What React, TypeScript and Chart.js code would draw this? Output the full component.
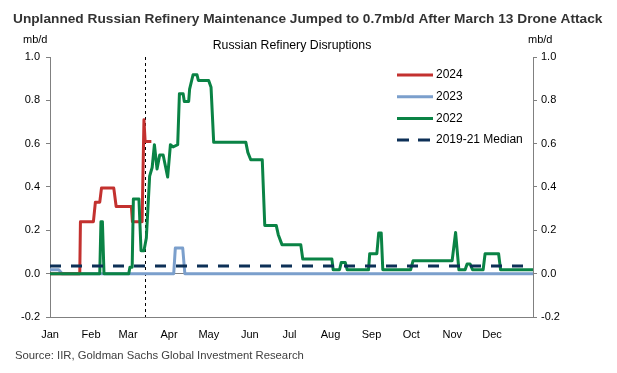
import React, { useEffect, useRef } from 'react';
import { Chart, registerables } from 'chart.js';

Chart.register(...registerables);

// ---- data ----
const monthLabels = ['Jan', 'Feb', 'Mar', 'Apr', 'May', 'Jun', 'Jul', 'Aug', 'Sep', 'Oct', 'Nov', 'Dec'];
const monthStartDays = [0, 31, 59, 90, 120, 151, 181, 212, 243, 273, 304, 334];
const yTickValues = [-0.2, 0, 0.2, 0.4, 0.6, 0.8, 1.0];
const attackDay = 72; // March 13

const days2024 = [0, 22.5, 23.0, 32.8, 34.3, 37.6, 38.9, 48.2, 50.0, 61.5, 62.3, 69.6, 71.0, 71.9, 76.6];
const values2024 = [0, 0, 0.24, 0.24, 0.33, 0.33, 0.395, 0.395, 0.31, 0.31, 0.24, 0.24, 0.71, 0.61, 0.61];

const days2023 = [0, 6.6, 9.2, 93.5, 94.7, 100.3, 101.9, 365];
const values2023 = [0.018, 0.018, 0, 0, 0.118, 0.118, 0, 0];

const days2022 = [
  0, 37.6, 38.5, 39.6, 40.8, 59.5, 60.4, 62.1, 63.0, 67.2, 68.8, 71.0, 72.8, 75.3, 77.2, 78.9, 80.9, 82.9,
  85.5, 88.9, 91.0, 93.0, 96.5, 97.8, 100.6, 101.5, 104.8, 105.5, 108.1, 111.1, 112.1, 119.9, 121.7, 123.7,
  148.0, 149.5, 151.7, 160.4, 162.3, 171.0, 172.5, 175.3, 189.5, 191.0, 213.0, 214.0, 218.8, 220.1, 223.1,
  224.6, 240.7, 241.6, 247.0, 248.4, 250.3, 251.5, 272.5, 274.4, 303.9, 306.5, 309.0, 313.7, 315.2, 317.4,
  319.3, 327.3, 328.8, 339.0, 340.5, 365,
];
const values2022 = [
  0, 0, 0.24, 0.24, 0, 0, 0.03, 0.03, 0.345, 0.345, 0.106, 0.106, 0.165, 0.45, 0.49, 0.595, 0.483, 0.548,
  0.548, 0.446, 0.595, 0.585, 0.595, 0.83, 0.83, 0.795, 0.795, 0.852, 0.918, 0.918, 0.892, 0.892, 0.86, 0.606,
  0.606, 0.56, 0.526, 0.526, 0.222, 0.222, 0.18, 0.134, 0.134, 0.068, 0.068, 0.018, 0.018, 0.052, 0.052,
  0.018, 0.018, 0.092, 0.092, 0.188, 0.188, 0.018, 0.018, 0.06, 0.06, 0.19, 0.018, 0.018, 0.045, 0.045,
  0.018, 0.018, 0.092, 0.092, 0.018, 0.018,
];

const medianDays = [0, 365];
const medianValues = [0.035, 0.035];

const seriesLabels = ['2024', '2023', '2022', '2019-21 Median'];

const titleText = 'Unplanned Russian Refinery Maintenance Jumped to 0.7mb/d After March 13 Drone Attack';
const subtitleText = 'Russian Refinery Disruptions';
const unitText = 'mb/d';
const sourceText = 'Source: IIR, Goldman Sachs Global Investment Research';

const FONT = '"Liberation Sans", Arial, sans-serif';

const toPoints = (xs: number[], ys: number[]) => xs.map((x, i) => ({ x, y: ys[i] }));

const overlayPlugin = {
  id: 'overlay',
  beforeDatasetsDraw(chart: any) {
    const { ctx, chartArea, scales } = chart;
    const x = Math.round(scales.x.getPixelForValue(attackDay)) + 0.5;
    ctx.save();
    ctx.strokeStyle = '#000000';
    ctx.lineWidth = 1;
    ctx.setLineDash([3, 3]);
    ctx.beginPath();
    ctx.moveTo(x, chartArea.top);
    ctx.lineTo(x, chartArea.bottom);
    ctx.stroke();
    ctx.restore();
  },
  afterDraw(chart: any) {
    const { ctx } = chart;
    ctx.save();
    ctx.textBaseline = 'middle';
    // title
    ctx.fillStyle = '#333333';
    ctx.font = `bold 13.7px ${FONT}`;
    ctx.textAlign = 'left';
    ctx.fillText(titleText, 13, 19);
    // units
    ctx.fillStyle = '#000000';
    ctx.font = `11px ${FONT}`;
    ctx.fillText(unitText, 23, 40);
    ctx.fillText(unitText, 528, 40);
    // subtitle
    ctx.font = `12.3px ${FONT}`;
    ctx.textAlign = 'center';
    ctx.fillText(subtitleText, 292, 46);
    // source
    ctx.textAlign = 'left';
    ctx.fillStyle = '#404040';
    ctx.font = `11.3px ${FONT}`;
    ctx.fillText(sourceText, 15, 356);
    // legend
    const ds = chart.data.datasets;
    ctx.font = `12px ${FONT}`;
    ds.forEach((d: any, i: number) => {
      const y = 75 + i * 21.7;
      ctx.strokeStyle = d.borderColor;
      ctx.lineWidth = 3;
      ctx.setLineDash(d.borderDash && d.borderDash.length ? [12, 9] : []);
      ctx.beginPath();
      ctx.moveTo(397, y);
      ctx.lineTo(433, y);
      ctx.stroke();
      ctx.setLineDash([]);
      ctx.fillStyle = '#000000';
      ctx.fillText(d.label, 436, y);
    });
    ctx.restore();
  },
};

export default function App() {
  const canvasRef = useRef<HTMLCanvasElement | null>(null);

  useEffect(() => {
    document.body.style.margin = '0';
    const canvas = canvasRef.current;
    if (!canvas) return;
    const tickFmt = (v: any) => {
      const n = Math.abs(Number(v)) < 1e-9 ? 0 : Number(v);
      return n.toFixed(1);
    };
    const yCommon = {
      type: 'linear' as const,
      min: -0.2,
      max: 1.0,
      afterBuildTicks: (s: any) => {
        s.ticks = yTickValues.map((v) => ({ value: v }));
      },
      border: { display: true, color: '#808080', width: 1 },
      ticks: {
        color: '#000000',
        font: { family: FONT, size: 11 },
        callback: tickFmt,
      },
    };
    const chart = new Chart(canvas, {
      type: 'line',
      data: {
        datasets: [
          {
            label: seriesLabels[0],
            data: toPoints(days2024, values2024),
            borderColor: '#C3312F',
            borderWidth: 3,
            order: 2,
          },
          {
            label: seriesLabels[1],
            data: toPoints(days2023, values2023),
            borderColor: '#7B9FCC',
            borderWidth: 3,
            order: 3,
          },
          {
            label: seriesLabels[2],
            data: toPoints(days2022, values2022),
            borderColor: '#0A8345',
            borderWidth: 3,
            order: 1,
          },
          {
            label: seriesLabels[3],
            data: toPoints(medianDays, medianValues),
            borderColor: '#0D3057',
            borderWidth: 3,
            borderDash: [11, 10],
            order: 0,
          },
        ],
      },
      options: {
        animation: false,
        responsive: false,
        maintainAspectRatio: false,
        elements: {
          point: { radius: 0, hoverRadius: 0 },
          line: { tension: 0, borderJoinStyle: 'round', fill: false },
        },
        layout: { padding: { top: 57, left: 0, right: 0, bottom: 0 } },
        plugins: {
          legend: { display: false },
          tooltip: { enabled: false },
          title: { display: false },
        },
        scales: {
          x: {
            type: 'linear',
            min: 0,
            max: 365,
            afterBuildTicks: (s: any) => {
              s.ticks = monthStartDays.map((v) => ({ value: v }));
            },
            afterFit: (s: any) => {
              s.height = 56;
            },
            grid: { display: false, drawTicks: false },
            border: { display: true, color: '#808080', width: 1 },
            ticks: {
              autoSkip: false,
              maxRotation: 0,
              padding: 11,
              color: '#000000',
              font: { family: FONT, size: 11 },
              callback: (v: any) => {
                const idx = monthStartDays.indexOf(Number(v));
                return idx >= 0 ? monthLabels[idx] : '';
              },
            },
          },
          y: {
            ...yCommon,
            position: 'left',
            afterFit: (s: any) => {
              s.width = 50;
            },
            grid: {
              display: true,
              drawOnChartArea: true,
              drawTicks: true,
              tickLength: 4,
              tickColor: '#808080',
              color: (c: any) => (c.tick && Math.abs(c.tick.value) < 1e-9 ? '#808080' : 'rgba(0,0,0,0)'),
            },
            ticks: { ...yCommon.ticks, padding: 6 },
          },
          y2: {
            ...yCommon,
            position: 'right',
            afterFit: (s: any) => {
              s.width = 84;
            },
            grid: {
              display: true,
              drawOnChartArea: false,
              drawTicks: true,
              tickLength: 4,
              tickColor: '#808080',
            },
            ticks: { ...yCommon.ticks, padding: 4 },
          },
        },
      },
      plugins: [overlayPlugin],
    });
    return () => chart.destroy();
  }, []);

  return (
    <div style={{ width: 617, height: 373 }}>
      <canvas ref={canvasRef} width={617} height={373} style={{ display: 'block', width: 617, height: 373 }} />
    </div>
  );
}
